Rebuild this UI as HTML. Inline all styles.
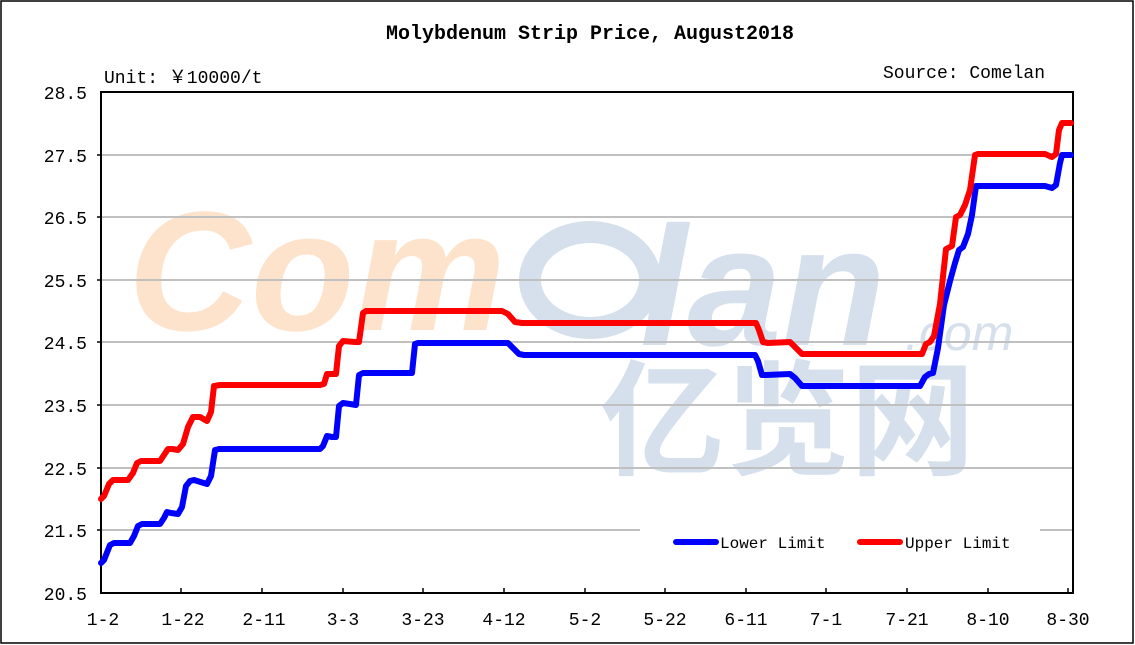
<!DOCTYPE html>
<html><head><meta charset="utf-8"><style>
html,body{margin:0;padding:0;background:#fff;}
svg{display:block;}
text{font-family:"Liberation Mono","Noto Sans CJK SC",monospace;}
</style></head><body>
<svg width="1135" height="645" viewBox="0 0 1135 645" xmlns="http://www.w3.org/2000/svg">
<rect x="1" y="1" width="1132" height="642" fill="#fff" stroke="#000" stroke-width="1.5"/>
<!-- watermark -->
<g opacity="1">
<text x="128" y="330" font-family="Liberation Sans,sans-serif" font-size="170" font-weight="bold" font-style="italic" fill="#fde3cc" style="font-family:'Liberation Sans',sans-serif">Com</text>
<ellipse cx="590" cy="280" rx="60" ry="48" fill="none" stroke="#d5e0ec" stroke-width="22"/>
<text x="640" y="345" font-size="170" font-weight="bold" font-style="italic" fill="#d5e0ec" style="font-family:'Liberation Sans',sans-serif">lan</text>
<text x="905" y="350" font-size="50" font-style="italic" fill="#d5e0ec" style="font-family:'Liberation Sans',sans-serif">.com</text>
<text x="600" y="465" font-size="125" font-weight="bold" fill="#d5e0ec" style="font-family:'Noto Sans CJK SC',sans-serif">亿览网</text>
</g>
<!-- grid -->
<g stroke="#c0c0c0" stroke-width="2">
<line x1="101" y1="155" x2="1073" y2="155"/>
<line x1="101" y1="217" x2="1073" y2="217"/>
<line x1="101" y1="280" x2="1073" y2="280"/>
<line x1="101" y1="342" x2="1073" y2="342"/>
<line x1="101" y1="405" x2="1073" y2="405"/>
<line x1="101" y1="468" x2="1073" y2="468"/>
<line x1="101" y1="530" x2="640" y2="530"/>
<line x1="1040" y1="530" x2="1073" y2="530"/>
</g>
<rect x="101" y="92" width="972" height="501" fill="none" stroke="#000" stroke-width="2"/>
<g stroke="#000" stroke-width="1.5">
<line x1="97" y1="155" x2="101" y2="155"/><line x1="97" y1="217" x2="101" y2="217"/><line x1="97" y1="280" x2="101" y2="280"/><line x1="97" y1="342" x2="101" y2="342"/><line x1="97" y1="405" x2="101" y2="405"/><line x1="97" y1="468" x2="101" y2="468"/><line x1="97" y1="530" x2="101" y2="530"/>
<line x1="181" y1="588" x2="181" y2="593"/><line x1="262" y1="588" x2="262" y2="593"/><line x1="343" y1="588" x2="343" y2="593"/><line x1="423" y1="588" x2="423" y2="593"/><line x1="504" y1="588" x2="504" y2="593"/><line x1="585" y1="588" x2="585" y2="593"/><line x1="665" y1="588" x2="665" y2="593"/><line x1="746" y1="588" x2="746" y2="593"/><line x1="826" y1="588" x2="826" y2="593"/><line x1="907" y1="588" x2="907" y2="593"/><line x1="988" y1="588" x2="988" y2="593"/><line x1="1068" y1="588" x2="1068" y2="593"/>
</g>
<g font-size="18" fill="#000" text-anchor="end">
<text x="87" y="99">28.5</text><text x="87" y="162">27.5</text><text x="87" y="224">26.5</text><text x="87" y="287">25.5</text><text x="87" y="349">24.5</text><text x="87" y="412">23.5</text><text x="87" y="475">22.5</text><text x="87" y="537">21.5</text><text x="87" y="600">20.5</text>
</g>
<g font-size="18" fill="#000" text-anchor="middle">
<text x="103" y="625">1-2</text><text x="183" y="625">1-22</text><text x="264" y="625">2-11</text><text x="343" y="625">3-3</text><text x="423" y="625">3-23</text><text x="504" y="625">4-12</text><text x="585" y="625">5-2</text><text x="665" y="625">5-22</text><text x="746" y="625">6-11</text><text x="826" y="625">7-1</text><text x="907" y="625">7-21</text><text x="988" y="625">8-10</text><text x="1068" y="625">8-30</text>
</g>
<text x="590" y="39" font-size="20" font-weight="bold" text-anchor="middle">Molybdenum Strip Price, August2018</text>
<text x="104" y="83" font-size="18">Unit: ￥10000/t</text>
<text x="1045" y="78" font-size="18" text-anchor="end">Source: Comelan</text>
<g fill="none" stroke-width="6" stroke-linejoin="round" stroke-linecap="round">
<polyline stroke="#0000ff" points="101,563 104,560 110,545 114,543 130,543 134,536 138,526 142,524 160,524 164,518 167,512 171,513 178,514 182,507 186,486 190,481 194,480 207,484 211,476 215,450 219,449 320,449 323,446 327,436 332,437 336,437 339,406 343,403 350,404 356,405 359,375 363,373 412,373 415,344 418,343 508,343 512,347 519,354 524,355 755,355 758,361 762,375 766,375 790,374 795,378 802,386 806,386 920,386 925,377 929,374 933,373 938,348 944,305 950,281 955,263 959,250 963,247 968,234 972,215 976,186 990,186 1045,186 1052,188 1056,185 1060,163 1062,155 1071,155"/>
<polyline stroke="#ff0000" points="101,499 104,496 109,484 113,480 128,480 133,473 137,463 141,461 160,461 164,455 168,449 172,449 178,450 183,444 188,427 193,417 200,417 207,421 211,412 214,386 220,385 320,385 324,384 327,374 333,374 336,374 339,346 343,341 355,342 359,342 363,313 366,311 502,311 508,314 515,322 522,323 756,323 759,330 763,342 768,343 790,342 795,347 802,354 806,354 922,354 926,344 930,342 934,336 940,304 946,249 950,247 952,246 956,217 960,215 965,205 970,190 975,155 978,154 1045,154 1052,157 1056,154 1059,130 1062,123 1071,123"/>
</g>
<line x1="676" y1="542" x2="716" y2="542" stroke="#0000ff" stroke-width="6" stroke-linecap="round"/>
<text x="720" y="548" font-size="16">Lower Limit</text>
<line x1="860" y1="542" x2="900" y2="542" stroke="#ff0000" stroke-width="6" stroke-linecap="round"/>
<text x="905" y="548" font-size="16">Upper Limit</text>
</svg>
</body></html>
